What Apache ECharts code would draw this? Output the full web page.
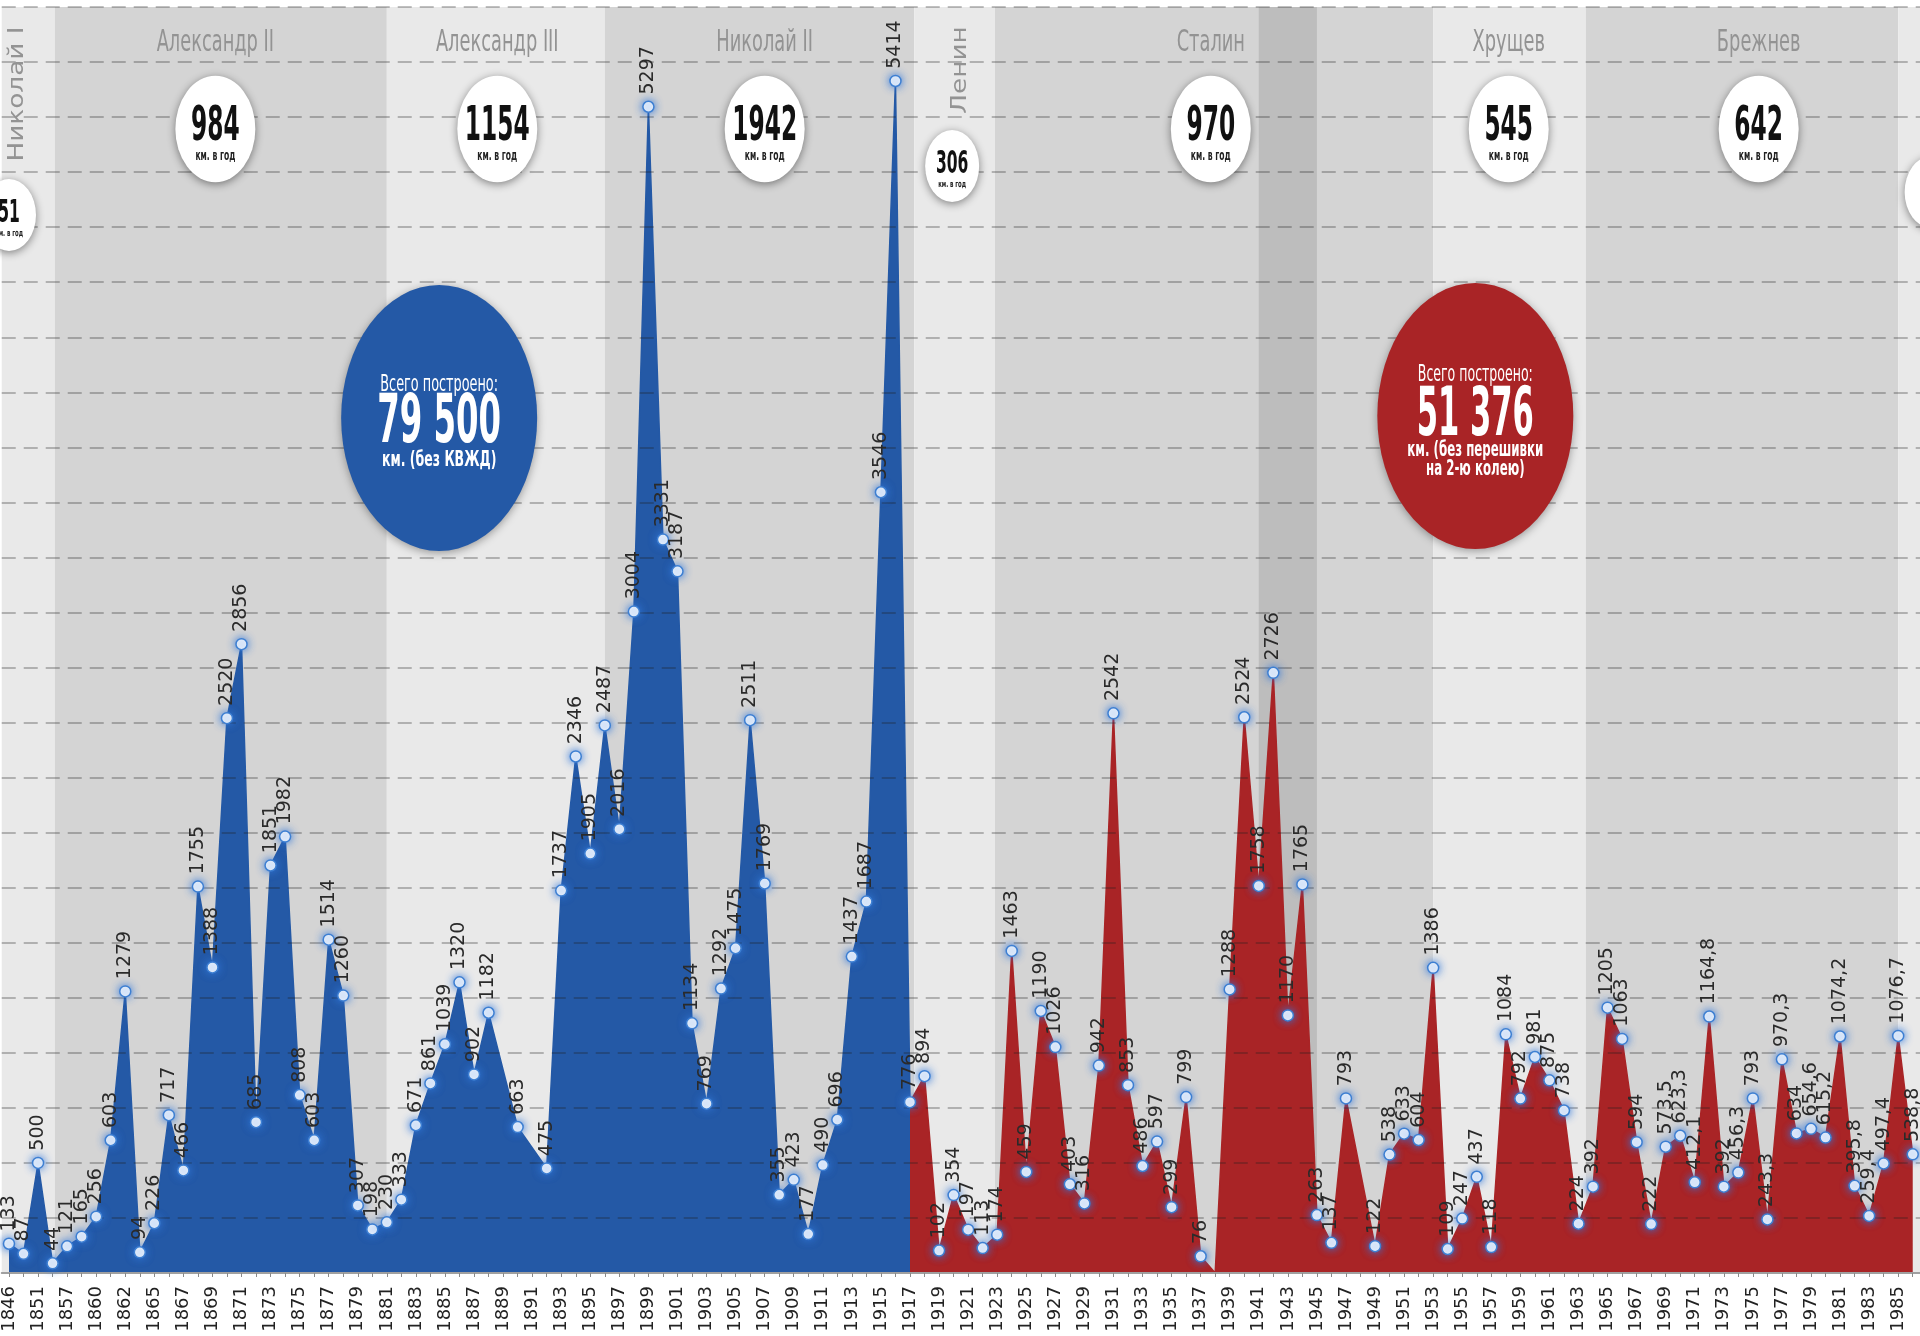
<!DOCTYPE html>
<html>
<head>
<meta charset="utf-8">
<title>Строительство железных дорог, км в год</title>
<script src="https://cdn.jsdelivr.net/npm/echarts@6/dist/echarts.min.js"></script>
<style>
  html, body { margin: 0; padding: 0; background: #ffffff; }
  #chart { width: 1920px; height: 1336px; }
</style>
</head>
<body>
<div id="chart"></div>
<script>
// ---- data ---------------------------------------------------------------
// category axis: one entry per plotted year (every other one gets a label)
const years = [
  '1846', '1848', '1851', '1853', '1857', '1858', '1860', '1861', '1862', '1863',
  '1865', '1866', '1867', '1868', '1869', '1870', '1871', '1872', '1873', '1874',
  '1875', '1876', '1877', '1878', '1879', '1880', '1881', '1882', '1883', '1884',
  '1885', '1886', '1887', '1888', '1889', '1890', '1891', '1892', '1893', '1894',
  '1895', '1896', '1897', '1898', '1899', '1900', '1901', '1902', '1903', '1904',
  '1905', '1906', '1907', '1908', '1909', '1910', '1911', '1912', '1913', '1914',
  '1915', '1916', '1917', '1918', '1919', '1920', '1921', '1922', '1923', '1924',
  '1925', '1926', '1927', '1928', '1929', '1930', '1931', '1932', '1933', '1934',
  '1935', '1936', '1937', '1938', '1939', '1940', '1941', '1942', '1943', '1944',
  '1945', '1946', '1947', '1948', '1949', '1950', '1951', '1952', '1953', '1954',
  '1955', '1956', '1957', '1958', '1959', '1960', '1961', '1962', '1963', '1964',
  '1965', '1966', '1967', '1968', '1969', '1970', '1971', '1972', '1973', '1974',
  '1975', '1976', '1977', '1978', '1979', '1980', '1981', '1982', '1983', '1984',
  '1985', '1986'
];

// km built per year, Russian Empire (1846 .. 1917); null = no point
const tsarKm = [
  133, 87, 500, 44, 121, 165, 256, 603, 1279, 94,
  226, 717, 466, 1755, 1388, 2520, 2856, 685, 1851, 1982,
  808, 603, 1514, 1260, 307, 198, 230, 333, 671, 861,
  1039, 1320, 902, 1182, null, 663, null, 475, 1737, 2346,
  1905, 2487, 2016, 3004, 5297, 3331, 3187, 1134, 769, 1292,
  1475, 2511, 1769, 355, 423, 177, 490, 696, 1437, 1687,
  3546, 5414, 776
];

// km built per year, Soviet period (1918 .. 1986)
const sovietKm = [
  894, 102, 354, 197, 113, 174, 1463, 459, 1190, 1026,
  403, 316, 942, 2542, 853, 486, 597, 299, 799, 76,
  0, 1288, 2524, 1758, 2726, 1170, 1765, 263, 137, 793,
  null, 122, 538, 633, 604, 1386, 109, 247, 437, 118,
  1084, 792, 981, 875, 738, 224, 392, 1205, 1063, 594,
  222, 573.5, 623.3, 412.1, 1164.8, 392, 456.3, 793, 243.3, 970.3,
  634, 654.6, 615.2, 1074.2, 395.8, 259.4, 497.4, 1076.7, 538.8
];

// rulers: name, average km per year, period edges on the year scale (category index units)
const reignNames = ['Николай I', 'Александр II', 'Александр III', 'Николай II', 'Ленин', 'Сталин', 'Хрущев', 'Брежнев', ''];
const reignAvg   = [51, 984, 1154, 1942, 306, 970, 545, 642, null];
const reignFrom  = [-0.5, 3.15, 26, 41, 62.3, 67.85, 98, 108.5, 130];
const reignTo    = [3.15, 26, 41, 62.3, 67.85, 98, 108.5, 130, 131.5];
const warYears   = [86, 90];   // 1941 .. 1945

const totalTsar   = '79 500';
const totalSoviet = '51 376';

// ---- layout (annotations only) -------------------------------------------
const NARROW = "'Liberation Sans Narrow', 'DejaVu Sans Condensed', 'Liberation Sans', sans-serif";
const STRETCH = 1.33;
const TOP_Z = 50;
const BLUE = '#2459a6';
const RED = '#a92426';
const LIGHT = '#e9e9e9';
const DARK = '#d4d4d4';
const WAR = '#bdbdbd';

// where each ruler's name / badge sits (category index units), badge y/radius in px
const reignLayout = [
  { at: 0.0,   vertical: true,  nameY: 94, badgeY: 215, r: 27, num: 24 },
  { at: 14.2,  vertical: false, nameY: 43, badgeY: 129, r: 40, num: 36 },
  { at: 33.6,  vertical: false, nameY: 43, badgeY: 129, r: 40, num: 36 },
  { at: 52.0,  vertical: false, nameY: 43, badgeY: 129, r: 40, num: 36 },
  { at: 64.9,  vertical: true,  nameY: 70, badgeY: 166, r: 27, num: 24 },
  { at: 82.7,  vertical: false, nameY: 43, badgeY: 129, r: 40, num: 36 },
  { at: 103.2, vertical: false, nameY: 43, badgeY: 129, r: 40, num: 36 },
  { at: 120.4, vertical: false, nameY: 43, badgeY: 129, r: 40, num: 36 },
  { at: 132.3, vertical: false, nameY: 43, badgeY: 192, r: 27, num: 24 }
];

// ---- series data -----------------------------------------------------------
const SPLIT = tsarKm.length - 1;           // 1917 is shared by both fills
const allKm = tsarKm.concat(sovietKm);
const blueData = allKm.map((v, i) => (i <= SPLIT && v !== null ? v : '-'));
const redData = allKm.map((v, i) => (i >= SPLIT && v !== null ? v : '-'));

function pointItems(arr, skipIndex) {
    return arr.map((v, i) => {
        if (v === '-') { return '-'; }
        if (v === 0 || i === skipIndex) {
            return { value: v, symbol: 'none', label: { show: false } };
        }
        return v;
    });
}

function fmt(v) {
    return String(v).replace('.', ',');
}

const pointStyle = {
    color: '#ffffff',
    borderColor: '#3d7fd2',
    borderWidth: 1.5,
    shadowBlur: 8,
    shadowColor: 'rgba(50, 120, 220, 1)'
};

const pointLabel = {
    show: true,
    position: 'top',
    distance: 6,
    rotate: 90,
    align: 'left',
    verticalAlign: 'middle',
    fontFamily: 'DejaVu Sans',
    fontSize: 19,
    color: '#2a2a2a',
    formatter: (p) => fmt(p.value)
};

const bandData = reignFrom.map((f, i) => [
    { xAxis: f, itemStyle: { color: i % 2 ? DARK : LIGHT, borderWidth: 0 } },
    { xAxis: reignTo[i] }
]);
bandData.push([{ xAxis: warYears[0], itemStyle: { color: WAR, borderWidth: 0 } }, { xAxis: warYears[1] }]);

const option = {
    backgroundColor: '#ffffff',
    animation: false,
    grid: { left: 0, right: 0, top: 7, bottom: 63, containLabel: false },
    xAxis: [{
        type: 'category',
        data: years,
        boundaryGap: true,
        z: 3,
        axisLine: { lineStyle: { color: '#a0a0a0', width: 2 } },
        axisTick: { show: true, interval: 0, alignWithLabel: true, length: 4, lineStyle: { color: '#8a8a8a' } },
        axisLabel: {
            interval: 1, rotate: 90, margin: 13,
            fontFamily: 'DejaVu Sans', fontSize: 18, color: '#222222'
        },
        splitLine: { show: false }
    }, {
        type: 'value',
        min: -0.5,
        max: 131.5,
        show: false
    }],
    yAxis: {
        type: 'value',
        min: 0,
        max: 5750,
        interval: 250,
        z: 3,
        axisLine: { show: false },
        axisTick: { show: false },
        axisLabel: { show: false },
        splitLine: { lineStyle: { color: 'rgba(30, 30, 30, 0.28)', width: 2, type: [14, 8] } }
    },
    series: [{
        name: 'bands',
        type: 'line',
        xAxisIndex: 1,
        data: [],
        silent: true,
        markArea: { silent: true, label: { show: false }, data: bandData }
    }, {
        name: 'tsar-fill',
        type: 'line',
        data: blueData,
        connectNulls: true,
        symbol: 'none',
        z: 2,
        lineStyle: { color: BLUE, width: 1.5 },
        areaStyle: { color: BLUE, opacity: 1 }
    }, {
        name: 'soviet-fill',
        type: 'line',
        data: redData,
        connectNulls: true,
        symbol: 'none',
        z: 2,
        lineStyle: { color: RED, width: 1.5 },
        areaStyle: { color: RED, opacity: 1 }
    }, {
        name: 'tsar-points',
        type: 'line',
        data: pointItems(blueData, -1),
        symbol: 'circle',
        symbolSize: 11,
        showAllSymbol: true,
        z: 5,
        lineStyle: { width: 0, opacity: 0 },
        itemStyle: pointStyle,
        label: pointLabel,
        labelLayout: { hideOverlap: false }
    }, {
        name: 'soviet-points',
        type: 'line',
        data: pointItems(redData, SPLIT),
        symbol: 'circle',
        symbolSize: 11,
        showAllSymbol: true,
        z: 5,
        lineStyle: { width: 0, opacity: 0 },
        itemStyle: pointStyle,
        label: pointLabel,
        labelLayout: { hideOverlap: false }
    }]
};

const chart = echarts.init(document.getElementById('chart'));
chart.setOption(option);

// ---- annotations -----------------------------------------------------------
function px(v) {
    return chart.convertToPixel({ xAxisIndex: 1 }, v);
}

// narrow display type is imitated by squeezing the text horizontally
function textEl(x, y, text, font, fill, squeeze, rotation) {
    return {
        type: 'text', x: x, y: y, z: TOP_Z + 1,
        rotation: rotation || 0,
        scaleX: squeeze || 1, scaleY: 1,
        style: {
            text: text, font: font, fill: fill,
            align: 'center', verticalAlign: 'middle',
            textAlign: 'center', textVerticalAlign: 'middle'
        }
    };
}

function disc(r, fill, shadow) {
    return {
        type: 'circle', z: TOP_Z,
        shape: { cx: 0, cy: 0, r: r },
        style: { fill: fill, shadowBlur: 8, shadowOffsetY: 2, shadowColor: shadow }
    };
}

function avgBadge(x, y, r, value, numSize) {
    const children = [disc(r, '#ffffff', 'rgba(0,0,0,0.45)')];
    if (value !== null) {
        children.push(textEl(0, -1, String(value), 'bold ' + numSize + 'px ' + NARROW, '#111111', 0.72));
        children.push(textEl(0, r * 0.52, 'км. в год', 'bold ' + Math.round(numSize / 3.6) + 'px ' + NARROW, '#222222', 0.85));
    }
    return { type: 'group', x: x, y: y, scaleX: 1, scaleY: STRETCH, z: TOP_Z, children: children };
}

function totalBadge(x, y, color, lines) {
    const children = [disc(98, color, 'rgba(0,0,0,0.35)')];
    lines.forEach((l) => {
        children.push(textEl(0, l.y, l.text, l.font, '#ffffff', l.squeeze));
    });
    return { type: 'group', x: x, y: y, scaleX: 1, scaleY: 1.357, z: TOP_Z, children: children };
}

const graphics = [];
reignNames.forEach((name, i) => {
    const lay = reignLayout[i];
    const x = px(lay.at);
    if (name) {
        graphics.push({
            type: 'group', x: lay.vertical ? x + 8 : x, y: lay.nameY,
            scaleX: 1, scaleY: STRETCH, z: TOP_Z,
            children: [lay.vertical
                ? textEl(0, 0, name, '22px ' + NARROW, '#939393', 1, Math.PI / 2)
                : textEl(0, 0, name, '22px ' + NARROW, '#939393', 0.9)]
        });
    }
    graphics.push(avgBadge(x, lay.badgeY, lay.r, reignAvg[i], lay.num));
});

graphics.push(totalBadge(px(29.6), 418, BLUE, [
    { y: -24, text: 'Всего построено:', font: '17px ' + NARROW, squeeze: 0.84 },
    { y: 5, text: totalTsar, font: 'bold 50px ' + NARROW, squeeze: 0.72 },
    { y: 31, text: 'км. (без КВЖД)', font: 'bold 16px ' + NARROW, squeeze: 0.87 }
]));
graphics.push(totalBadge(px(100.9), 416, RED, [
    { y: -30, text: 'Всего построено:', font: '17px ' + NARROW, squeeze: 0.82 },
    { y: 1, text: totalSoviet, font: 'bold 50px ' + NARROW, squeeze: 0.68 },
    { y: 25, text: 'км. (без перешивки', font: 'bold 16px ' + NARROW, squeeze: 0.82 },
    { y: 39, text: 'на 2-ю колею)', font: 'bold 16px ' + NARROW, squeeze: 0.82 }
]));

chart.setOption({ graphic: graphics });
</script>
</body>
</html>
